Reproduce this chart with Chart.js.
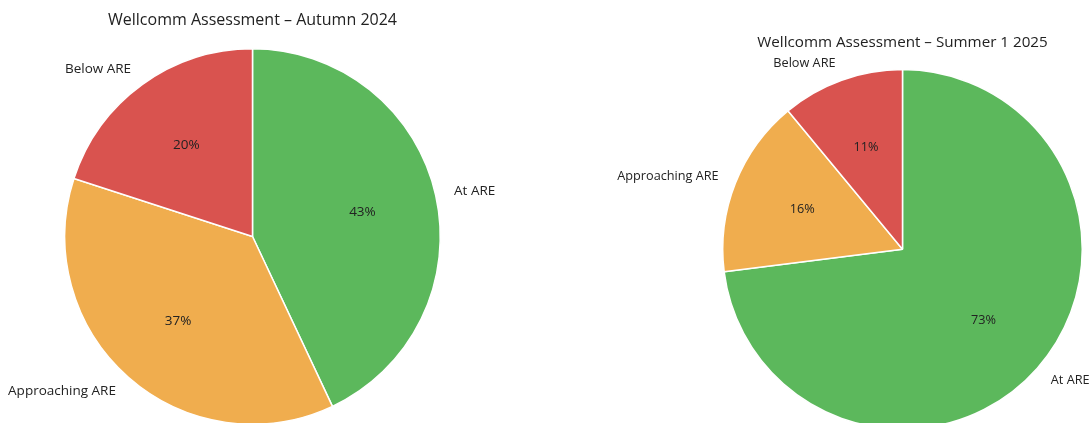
<!DOCTYPE html>
<html>
<head>
<meta charset="utf-8">
<script src="https://cdn.jsdelivr.net/npm/chart.js@4"></script>
<style>
  html, body { margin: 0; padding: 0; background: #fff; overflow: hidden; width: 1089px; height: 423px; }
  .box { position: absolute; top: 0; }
  #box-left { left: 0; width: 545px; height: 425px; }
  #box-right { left: 545px; width: 544px; height: 430px; }
</style>
</head>
<body>
<div class="box" id="box-left"><canvas id="chart-left"></canvas></div>
<div class="box" id="box-right"><canvas id="chart-right"></canvas></div>
<script>
// categories in drawing order (clockwise from 12 o'clock)
var categorias = ['At ARE', 'Approaching ARE', 'Below ARE'];
var cores = ['#5cb85c', '#f0ad4e', '#d9534f'];

var titleAutumn = 'Wellcomm Assessment – Autumn 2024';
var valoresAutumn = [43, 37, 20];

var titleSummer = 'Wellcomm Assessment – Summer 1 2025';
var valoresSummer = [73, 16, 11];

var fonte = '"Open Sans", "Noto Sans", sans-serif';

// draws outside labels + percentages, matplotlib style
var pieLabels = {
	id: 'pieLabels',
	afterDatasetsDraw: function (chart, args, opts) {
		var ctx = chart.ctx;
		var meta = chart.getDatasetMeta(0);
		var valores = chart.data.datasets[0].data;
		var total = valores.reduce((acc, v) => acc + v, 0);
		ctx.save();
		ctx.font = opts.size + 'px ' + fonte;
		ctx.fillStyle = '#222';
		ctx.textBaseline = 'middle';
		meta.data.forEach(function (arc, i) {
			var a = (arc.startAngle + arc.endAngle) / 2;
			var r = arc.outerRadius;
			var cos = Math.cos(a), sin = Math.sin(a);
			// category label at 1.1 r
			ctx.textAlign = cos >= 0 ? 'left' : 'right';
			ctx.fillText(chart.data.labels[i], arc.x + cos * r * 1.1, arc.y + sin * r * 1.1);
			// percentage at 0.6 r
			ctx.textAlign = 'center';
			var pct = Math.round(valores[i] / total * 100) + '%';
			ctx.fillText(pct, arc.x + cos * r * 0.6, arc.y + sin * r * 0.6);
		});
		ctx.restore();
	}
};

let generatePie = function (canvasId, titulo, valores, padding, titlePadding, titleSize, labelSize) {
	var ctx = document.getElementById(canvasId).getContext('2d');
	var config = {
		type: 'pie',
		data: {
			labels: categorias,
			datasets: [{
				data: valores,
				backgroundColor: cores,
				borderColor: '#ffffff',
				borderWidth: 1.5
			}]
		},
		options: {
			responsive: true,
			maintainAspectRatio: false,
			animation: false,
			layout: { padding: padding },
			plugins: {
				legend: { display: false },
				tooltip: { enabled: false },
				title: {
					display: true,
					text: titulo,
					color: '#222',
					font: { family: fonte, size: titleSize, weight: 'normal', lineHeight: 1.2 },
					padding: titlePadding
				},
				pieLabels: { size: labelSize }
			}
		},
		plugins: [pieLabels]
	};
	return new Chart(ctx, config);
};

generatePie('chart-left', titleAutumn, valoresAutumn,
	{ left: 64, right: 104, top: 0, bottom: 0 }, { top: 10.5, bottom: 18.3 }, 16, 13.5);
generatePie('chart-right', titleSummer, valoresSummer,
	{ left: 177, right: 6, top: 0, bottom: 0 }, { top: 34, bottom: 16.4 }, 15.2, 12.7);
</script>
</body>
</html>
